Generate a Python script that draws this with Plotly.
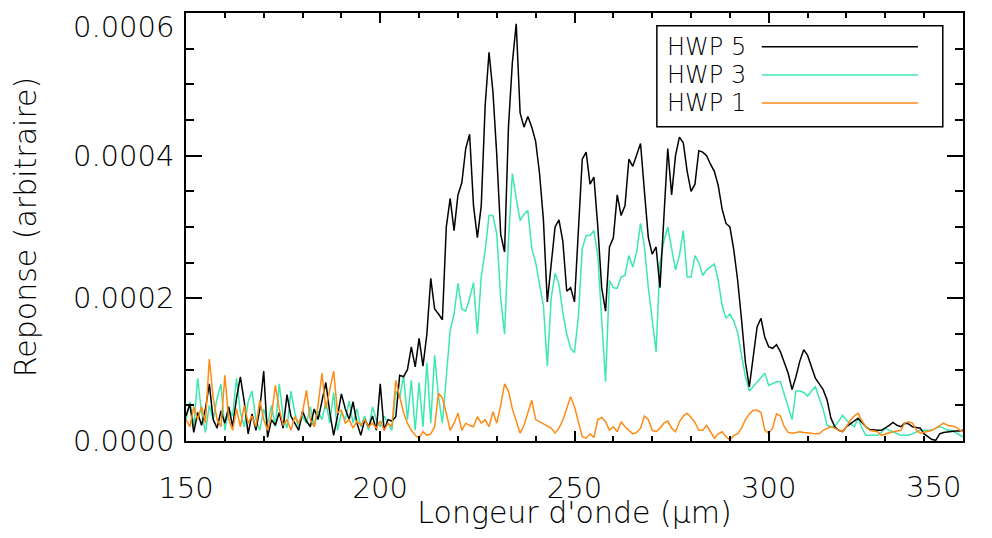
import plotly.graph_objects as go

# Longueur d'onde (µm), échantillonnage 1 µm de 150 à 350
wavelength = list(range(150, 351))

# Réponses en unités de 1e-6 (arbitraire)
hwp5 = [
    35, 52, 12, 40, 22, 45, 80, 30, 18, 42,
    25, 48, 20, 60, 90, 55, 10, 38, 15, 45,
    98, 5, 30, 22, 40, 18, 65, 35, 25, 15,
    42, 28, 20, 45, 30, 55, 82, 40, 8, 35,
    66, 45, 30, 55, 25, 8, 30, 20, 35, 15,
    80, 15, 30, 28, 34, 92, 90, 100, 132, 104,
    144, 105, 150, 228, 185, 178, 170, 300, 340, 295,
    345, 362, 410, 430, 330, 285, 330, 470, 545, 490,
    400, 290, 265, 440, 530, 585, 460, 440, 455, 440,
    420, 375, 310, 195, 245, 300, 310, 280, 210, 215,
    195, 290, 395, 405, 360, 370, 300, 215, 182, 272,
    285, 345, 316, 330, 395, 385, 400, 417, 350, 285,
    262, 272, 215, 320, 410, 345, 400, 426, 418, 378,
    350, 360, 407, 405, 400, 388, 378, 358, 325, 305,
    300, 268, 225, 170, 110, 76, 115, 160, 172, 145,
    132, 130, 135, 125, 110, 95, 72, 90, 112, 128,
    120, 105, 88, 80, 72, 58, 32, 20, 15, 13,
    20, 24, 28, 32, 26, 20, 16, 15, 15, 15,
    18, 22, 26, 22, 20, 25, 24, 20, 19, 18,
    10, 6, 2, 1, 10, 12, 13, 13, 14, 14,
    15,
]

hwp3 = [
    30, 55, 20, 88, 40, 12, 50, 30, 60, 80,
    15, 45, 35, 88, 40, 20, 55, 70, 30, 15,
    45, 25, 50, 20, 80, 35, 18, 70, 40, 18,
    35, 25, 48, 20, 42, 30, 55, 25, 68, 15,
    40, 30, 56, 25, 45, 20, 35, 15, 48, 30,
    20, 35, 25, 15, 70, 60, 92, 30, 85, 15,
    82, 20, 110, 25, 120, 62, 25, 90, 155, 178,
    221, 185, 182, 200, 222, 150, 230, 267, 316, 316,
    290, 200, 150, 280, 375, 340, 309, 318, 323, 270,
    250, 220, 190, 105, 200, 235, 220, 180, 150, 130,
    124, 175, 270, 288, 288, 295, 260, 170, 83, 225,
    215, 214, 230, 232, 260, 244, 265, 305, 272, 215,
    170, 125, 250, 280, 300, 268, 240, 260, 295, 230,
    230, 260, 250, 232, 240, 244, 248, 225, 190, 172,
    178, 168, 152, 120, 90, 70, 76, 82, 88, 95,
    78, 80, 83, 83, 65, 50, 30, 70, 70, 68,
    63, 70, 76, 60, 45, 22, 20, 20, 28, 36,
    29, 24, 20, 32, 18, 8, 8, 8, 8, 12,
    18, 15, 13, 10, 8, 8, 8, 10, 13, 15,
    15, 15, 15, 18, 20, 18, 15, 15, 12, 8,
    6,
]

hwp1 = [
    30, 20, 48, 30, 48, 25, 115, 60, 30, 20,
    92, 30, 15, 45, 20, 50, 25, 35, 20, 57,
    30, 15, 35, 78, 45, 22, 30, 15, 34, 25,
    40, 71, 30, 20, 50, 95, 45, 70, 98, 40,
    43, 25, 30, 18, 28, 22, 30, 20, 25, 18,
    28, 15, 25, 20, 85, 62, 40, 25, 15, 8,
    4, 13, 8, 10, 20, 67, 60, 39, 15, 25,
    39, 15, 25, 22, 20, 34, 25, 30, 20, 41,
    25, 50, 80, 70, 45, 28, 11, 22, 40, 57,
    30, 27, 25, 22, 18, 11, 18, 29, 45, 62,
    48, 25, 6, 4, 10, 5, 30, 33, 27, 15,
    20, 13, 27, 20, 15, 10, 12, 18, 35, 30,
    15, 13, 18, 25, 28, 18, 13, 27, 35, 39,
    33, 26, 15, 15, 22, 12, 4, 10, 13, 6,
    1, 8, 10, 18, 30, 38, 43, 43, 40, 15,
    11, 18, 38, 35, 20, 12, 11, 12, 13, 12,
    12, 11, 10, 10, 15, 18, 20, 18, 15, 13,
    20, 29, 35, 39, 28, 20, 15, 14, 13, 8,
    10, 12, 13, 14, 15, 25, 27, 25, 15, 11,
    12, 13, 15, 18, 22, 25, 22, 21, 20, 16,
    13,
]

labels = ["HWP 5", "HWP 3", "HWP 1"]
colors = ["#000000", "#3ce8b0", "#ff8a14"]
series = [hwp5, hwp3, hwp1]

x_ticks = [150, 200, 250, 300, 350]
x_ticktext = ["150", "200", "250", "300", ""]     # 350 posé à part (bord de page)
y_ticks = [0.0, 0.0002, 0.0004, 0.0006]
y_ticktext = ["0.0000", "0.0002", "0.0004", ""]   # 0.0006 posé à part

FONT = "DejaVu Sans"
LIGHT = 200
tick_font = dict(family=FONT, size=29, color="black", weight=LIGHT)

fig = go.Figure()

# ordre de trace : vert, noir, orange
for i in [1, 0, 2]:
    fig.add_trace(go.Scatter(
        x=wavelength,
        y=[v * 1e-6 for v in series[i]],
        mode="lines",
        name=labels[i],
        line=dict(color=colors[i], width=1.5),
        showlegend=False,
    ))

axis_common = dict(
    showgrid=False,
    zeroline=False,
    showline=True,
    linecolor="black",
    linewidth=1.5,
    mirror="allticks",
    ticks="inside",
    tickcolor="black",
    tickwidth=1.5,
    automargin=False,
    tickfont=tick_font,
)

fig.update_xaxes(
    range=[150, 350],
    tickvals=x_ticks,
    ticktext=x_ticktext,
    ticklen=10,
    minor=dict(dtick=10, ticks="inside", ticklen=5, tickcolor="black", tickwidth=1.5),
    ticklabelstandoff=20,
    title=dict(text="Longeur d'onde (\u03bcm)",
               font=dict(family=FONT, size=30, color="black", weight=LIGHT), standoff=12),
    **axis_common,
)
fig.update_yaxes(
    range=[0, 0.0006],
    tickvals=y_ticks,
    ticktext=y_ticktext,
    ticklen=16,
    minor=dict(dtick=0.00005, ticks="inside", ticklen=8, tickcolor="black", tickwidth=1.5),
    ticklabelstandoff=4,
    title=dict(text="Reponse (arbitraire)",
               font=dict(family=FONT, size=30, color="black", weight=LIGHT), standoff=28),
    **axis_common,
)

# étiquettes de bord, gardées dans la page
fig.add_annotation(x=x_ticks[-1], xref="x", y=-0.108, yref="paper", text="350",
                   showarrow=False, xanchor="right", yanchor="middle", font=tick_font)
fig.add_annotation(x=-0.0129, xref="paper", y=1.0117, yref="paper", text="0.0006",
                   showarrow=False, xanchor="right", yanchor="top", font=tick_font)

# légende façon IDL : texte à gauche, trait à droite
fig.add_shape(type="rect", xref="paper", yref="paper",
              x0=0.606, x1=0.974, y0=0.734, y1=0.970,
              line=dict(color="black", width=1.5), fillcolor="white", layer="above")
legend_y = [0.921, 0.855, 0.790]
for lab, col, ly in zip(labels, colors, legend_y):
    fig.add_annotation(x=0.6165, y=ly, xref="paper", yref="paper", text=lab,
                       showarrow=False, xanchor="left", yanchor="middle",
                       font=dict(family=FONT, size=24, color="black", weight=LIGHT))
    fig.add_shape(type="line", xref="paper", yref="paper",
                  x0=0.741, x1=0.942, y0=ly, y1=ly,
                  line=dict(color=col, width=1.5))

# la page ajoute une marge de 8 px autour de la figure
fig.update_layout(
    width=976,
    height=522,
    margin=dict(l=178, r=21, t=5, b=89, autoexpand=False),
    plot_bgcolor="white",
    paper_bgcolor="white",
    font=dict(family=FONT, color="black"),
)

fig.write_html("out.html")
